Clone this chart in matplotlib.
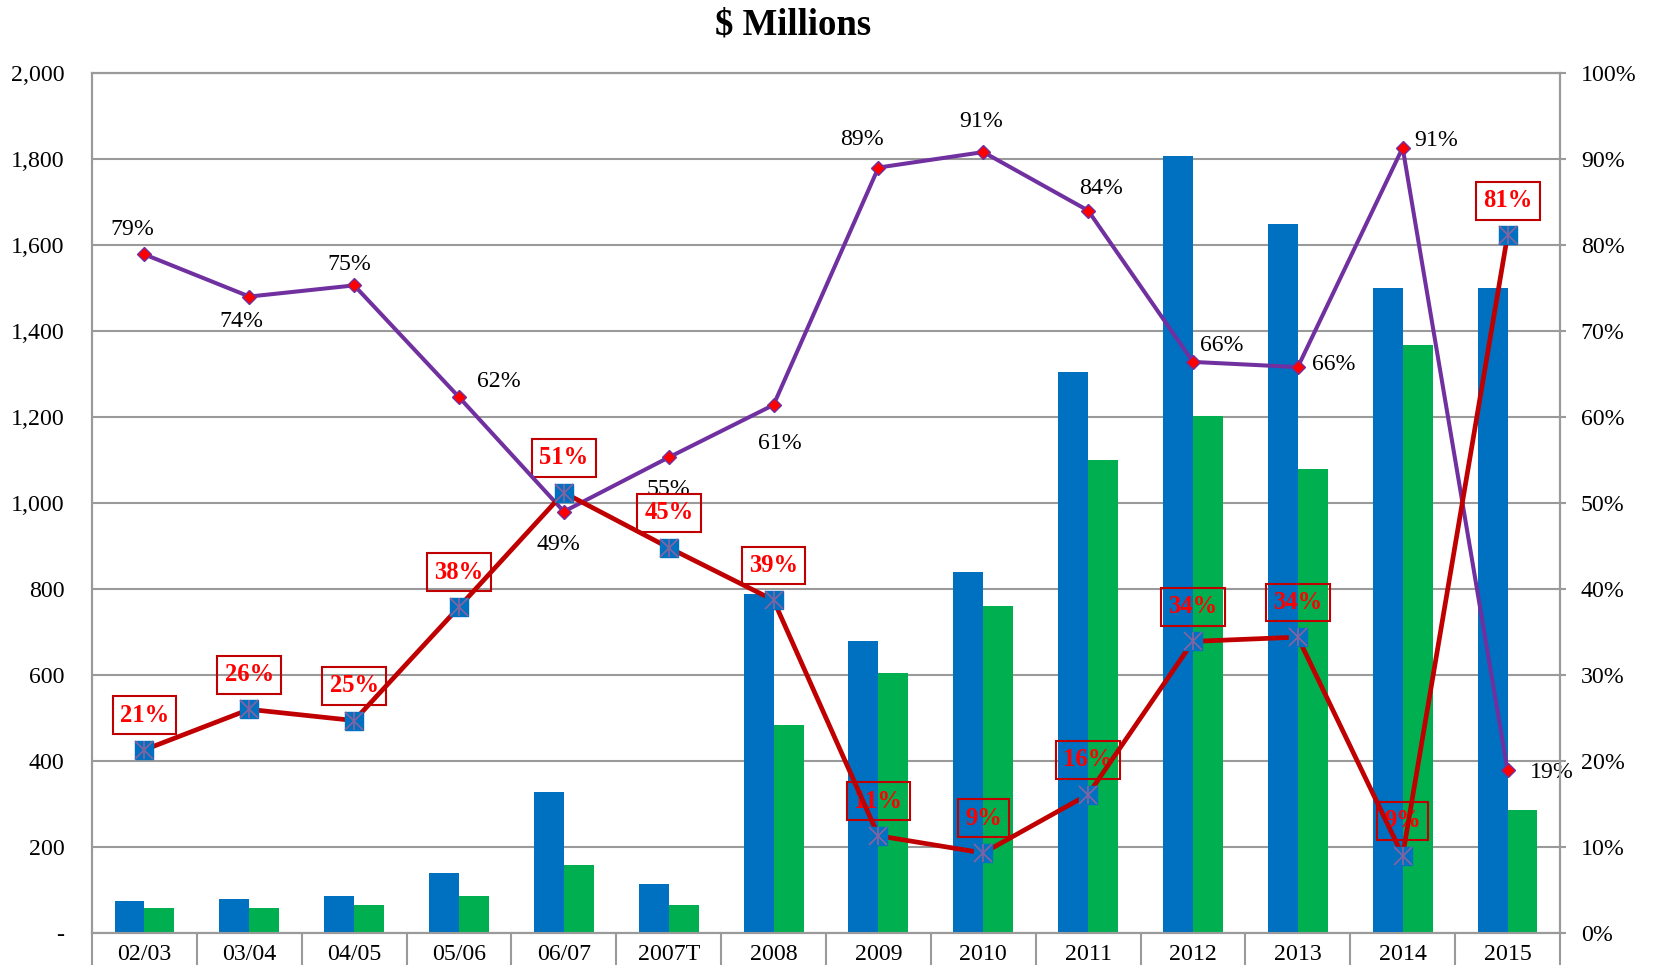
import matplotlib
matplotlib.use("Agg")
import matplotlib.pyplot as plt
import numpy as np

plt.rcParams['font.family'] = ['Liberation Serif', 'DejaVu Serif']

categories = ["02/03", "03/04", "04/05", "05/06", "06/07", "2007T", "2008",
              "2009", "2010", "2011", "2012", "2013", "2014", "2015"]
blue_vals = [74, 78, 86, 140, 327, 115, 788, 680, 839, 1305, 1808, 1649, 1500, 1500]
green_vals = [57, 57, 64, 87, 159, 64, 483, 604, 761, 1099, 1202, 1080, 1367, 285]
purple_pct = [78.9, 74.0, 75.3, 62.3, 49.0, 55.3, 61.4, 89.0, 90.8, 84.0, 66.4, 65.8, 91.3, 18.9]
red_pct = [21.3, 26.0, 24.7, 37.9, 51.2, 44.8, 38.7, 11.3, 9.3, 16.1, 33.9, 34.4, 9.0, 81.1]

# label offsets for the purple series (points)
purple_offsets = [(-8.6, 18), (-5.8, -18), (-3.6, 15), (29, 11.5), (-3.6, -23.8),
                  (0, -23), (4.3, -28), (-11.5, 20), (-1.4, 22.3), (9.4, 15.8),
                  (21, 11.5), (26, 2), (24, 5), (32, -1.5)]

BLUE = "#0070C0"
GREEN = "#00B050"
PURPLE = "#7030A0"
DRED = "#C00000"
GRAY = "#9A9A9A"
FS = 17.2

fig = plt.figure(figsize=(16.53, 9.65), dpi=100)
ax = fig.add_axes([0.0557, 0.0332, 0.888, 0.8912])
x = np.arange(len(categories))
w = 0.286

ax.bar(x - w/2, blue_vals, w, color=BLUE, zorder=2)
ax.bar(x + w/2, green_vals, w, color=GREEN, zorder=2)

ax.set_xlim(-0.5, len(categories) - 0.5)
ax.set_ylim(0, 2000)
ax.set_yticks(np.arange(0, 2001, 200))
ax.set_yticklabels(["-"] + ["{:,}".format(v) for v in range(200, 2001, 200)])
ax.yaxis.grid(True, color=GRAY, lw=1.5)
ax.set_axisbelow(True)
ax.tick_params(axis='y', length=0, pad=20, labelsize=FS)

ax.set_xticks(x)
ax.set_xticklabels(categories)
ax.set_xticks(np.arange(-0.5, len(categories), 1), minor=True)
ax.tick_params(axis='x', which='major', length=0, pad=8, labelsize=FS)
ax.tick_params(axis='x', which='minor', length=40, width=1.5, color=GRAY)

for s in ax.spines.values():
    s.set_color(GRAY)
    s.set_linewidth(1.5)

ax2 = ax.twinx()
ax2.set_ylim(0, 100)
ax2.set_yticks(np.arange(0, 101, 10))
ax2.set_yticklabels(["{}%".format(v) for v in range(0, 101, 10)])
ax2.tick_params(axis='y', length=4.5, width=1.5, color=GRAY, pad=10.5, labelsize=FS)
for s in ax2.spines.values():
    s.set_color(GRAY)
    s.set_linewidth(1.5)

ax2.plot(x, purple_pct, color=PURPLE, lw=2.9, marker='D', ms=7,
         mfc='#FF0000', mec=PURPLE, mew=1, zorder=3)
ax2.plot(x, red_pct, color=DRED, lw=3.4, zorder=4)
ax2.plot(x, red_pct, ls='none', marker='s', ms=13.5, mfc=BLUE, mec=BLUE, zorder=5)
ax2.plot(x, red_pct, ls='none', marker='x', ms=13, mec='#8064A2', mew=1.3, zorder=6)
ax2.plot(x, red_pct, ls='none', marker='|', ms=13.5, mec='#8064A2', mew=1.3, zorder=6)

for i, v in enumerate(purple_pct):
    ax2.annotate("{}%".format(round(v)), (x[i], v), xytext=purple_offsets[i],
                 textcoords='offset points', ha='center', va='center',
                 fontsize=FS, color='black', zorder=2, annotation_clip=False)

for i, v in enumerate(red_pct):
    ax2.annotate("{}%".format(round(v)), (x[i], v), xytext=(0, 25),
                 textcoords='offset points', ha='center', va='center',
                 fontsize=FS + 0.5, fontweight='bold', color='#FF0000', zorder=2,
                 annotation_clip=False,
                 bbox=dict(boxstyle='square,pad=0.3', fc='none', ec=DRED, lw=1.5))

fig.text(0.48, 1 - 25/965, r"\$ Millions", ha='center', va='center',
         fontsize=26.5, fontweight='bold')

fig.savefig("out.png", dpi=100)
